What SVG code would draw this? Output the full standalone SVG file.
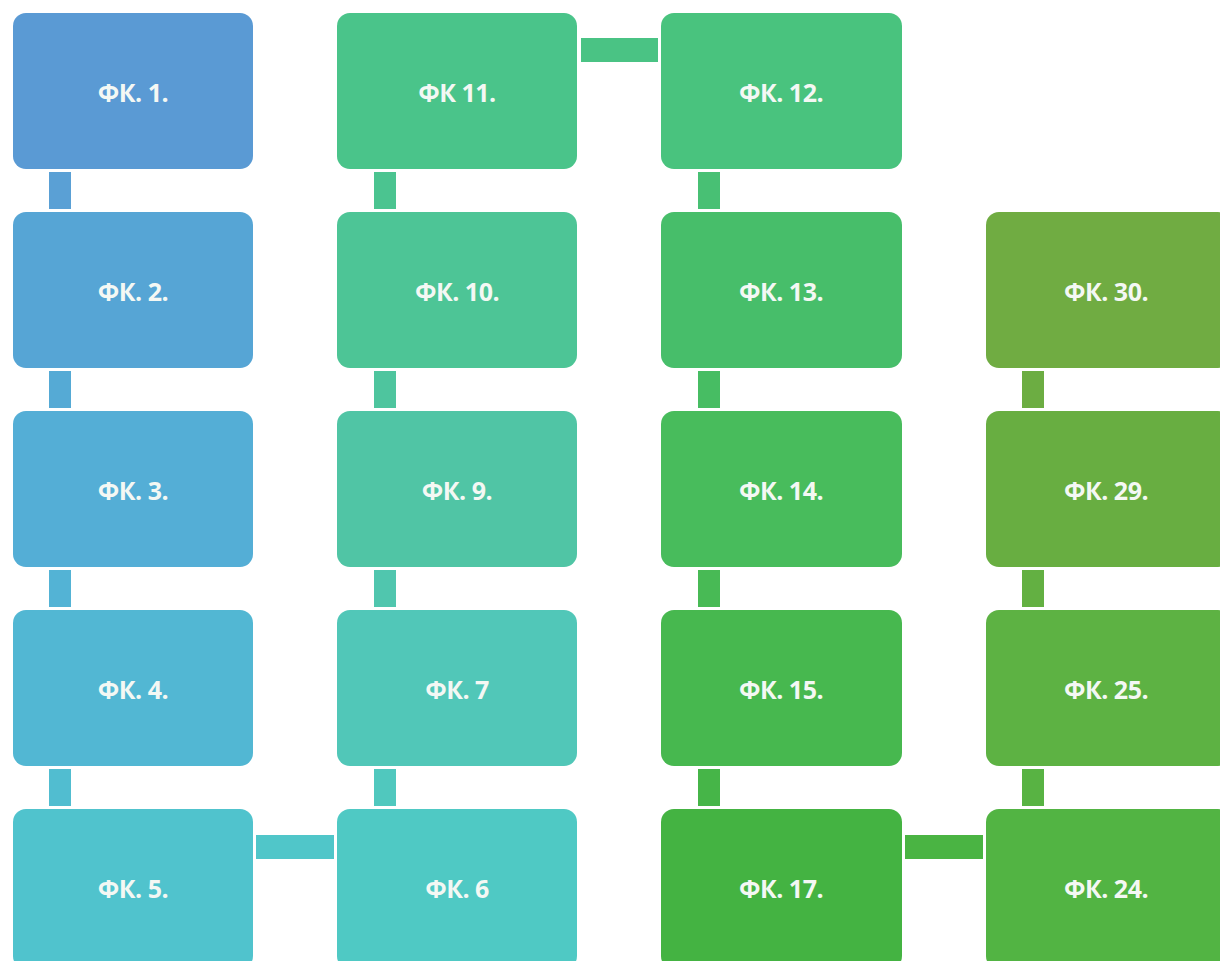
<svg xmlns="http://www.w3.org/2000/svg" width="1220" height="961" viewBox="0 0 1220 961">
<style>
.n rect{rx:13px}
.n text{font-family:"Open Sans","Noto Sans","DejaVu Sans",sans-serif;font-weight:bold;font-size:25px;letter-spacing:-0.5px;fill:#f4f8f4;text-anchor:middle}
</style>
<rect width="1220" height="961" fill="#ffffff"/>
<g id="connectors">
<rect x="49" y="172" width="22" height="37" fill="#5aa0d5"/>
<rect x="49" y="371" width="22" height="37" fill="#55aad5"/>
<rect x="49" y="570" width="22" height="37" fill="#53b3d5"/>
<rect x="49" y="769" width="22" height="37" fill="#51bdd0"/>
<rect x="256" y="835" width="78" height="24" fill="#50c6c9"/>
<rect x="374" y="769" width="22" height="37" fill="#50c8be"/>
<rect x="374" y="570" width="22" height="37" fill="#50c6ae"/>
<rect x="374" y="371" width="22" height="37" fill="#4ec59e"/>
<rect x="374" y="172" width="22" height="37" fill="#4bc490"/>
<rect x="581" y="38" width="77" height="24" fill="#4ac384"/>
<rect x="698" y="172" width="22" height="37" fill="#48c074"/>
<rect x="698" y="371" width="22" height="37" fill="#47bd63"/>
<rect x="698" y="570" width="22" height="37" fill="#48ba55"/>
<rect x="698" y="769" width="22" height="37" fill="#46b548"/>
<rect x="905" y="835" width="78" height="24" fill="#4ab443"/>
<rect x="1022" y="769" width="22" height="37" fill="#58b343"/>
<rect x="1022" y="570" width="22" height="37" fill="#63b042"/>
<rect x="1022" y="371" width="22" height="37" fill="#6cad42"/>
</g>
<g id="n1" class="n"><rect x="13" y="13" width="240" height="156" fill="#5a9ad4"/><text x="133" y="102">ФК. 1.</text></g>
<g id="n2" class="n"><rect x="13" y="212" width="240" height="156" fill="#56a5d5"/><text x="133" y="301">ФК. 2.</text></g>
<g id="n3" class="n"><rect x="13" y="411" width="240" height="156" fill="#54aed6"/><text x="133" y="500">ФК. 3.</text></g>
<g id="n4" class="n"><rect x="13" y="610" width="240" height="156" fill="#52b7d3"/><text x="133" y="699">ФК. 4.</text></g>
<g id="n5" class="n"><rect x="13" y="809" width="240" height="160" fill="#50c3cd"/><text x="133" y="898">ФК. 5.</text></g>
<g id="n6" class="n"><rect x="337" y="809" width="240" height="160" fill="#4fc9c4"/><text x="457" y="898">ФК. 6</text></g>
<g id="n7" class="n"><rect x="337" y="610" width="240" height="156" fill="#51c7b8"/><text x="457" y="699">ФК. 7</text></g>
<g id="n9" class="n"><rect x="337" y="411" width="240" height="156" fill="#50c5a5"/><text x="457" y="500">ФК. 9.</text></g>
<g id="n10" class="n"><rect x="337" y="212" width="240" height="156" fill="#4dc596"/><text x="457" y="301">ФК. 10.</text></g>
<g id="n11" class="n"><rect x="337" y="13" width="240" height="156" fill="#4ac48a"/><text x="457" y="102">ФК 11.</text></g>
<g id="n12" class="n"><rect x="661" y="13" width="241" height="156" fill="#49c37e"/><text x="781" y="102">ФК. 12.</text></g>
<g id="n13" class="n"><rect x="661" y="212" width="241" height="156" fill="#47be6a"/><text x="781" y="301">ФК. 13.</text></g>
<g id="n14" class="n"><rect x="661" y="411" width="241" height="156" fill="#48bc5c"/><text x="781" y="500">ФК. 14.</text></g>
<g id="n15" class="n"><rect x="661" y="610" width="241" height="156" fill="#47b84f"/><text x="781" y="699">ФК. 15.</text></g>
<g id="n17" class="n"><rect x="661" y="809" width="241" height="160" fill="#44b342"/><text x="781" y="898">ФК. 17.</text></g>
<g id="n24" class="n"><rect x="986" y="809" width="245" height="160" fill="#52b443"/><text x="1106" y="898">ФК. 24.</text></g>
<g id="n25" class="n"><rect x="986" y="610" width="245" height="156" fill="#5db243"/><text x="1106" y="699">ФК. 25.</text></g>
<g id="n29" class="n"><rect x="986" y="411" width="245" height="156" fill="#68ae41"/><text x="1106" y="500">ФК. 29.</text></g>
<g id="n30" class="n"><rect x="986" y="212" width="245" height="156" fill="#70ac42"/><text x="1106" y="301">ФК. 30.</text></g>
</svg>
